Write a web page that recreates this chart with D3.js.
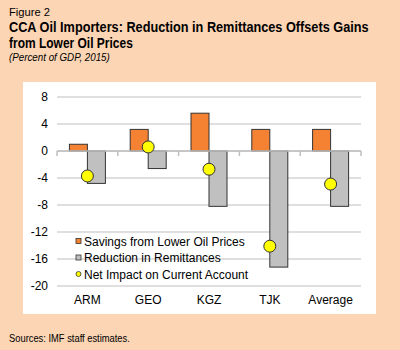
<!DOCTYPE html>
<html>
<head>
<meta charset="utf-8">
<script src="https://cdn.jsdelivr.net/npm/d3@7"></script>
<style>
  body { margin:0; background:#fcd5b4; }
  svg text { font-family: Arial, "Liberation Sans", sans-serif; fill:#000; }
</style>
</head>
<body>
<div id="chart"></div>
<script>
const categories = ["ARM","GEO","KGZ","TJK","Average"];
const savings     = [1.0, 3.2, 5.6, 3.2, 3.2];
const remittances = [-4.8, -2.6, -8.2, -17.2, -8.2];
const netImpact   = [-3.7, 0.6, -2.7, -14.1, -4.9];
const yTicks = [8,4,0,-4,-8,-12,-16,-20];
const legendLabels = ["Savings from Lower Oil Prices","Reduction in Remittances","Net Impact on Current Account"];

const svg = d3.select("#chart").append("svg").attr("width",400).attr("height",350);
svg.append("rect").attr("width",400).attr("height",350).attr("fill","#fcd5b4");

// condensed text: draw at natural size, then squeeze horizontally to target width
function squeezed(x0, y0, size, width, str, weight, style) {
    const t = svg.append("text").attr("x",0).attr("y",0)
        .style("font-size",size+"px").style("font-weight",weight||"normal")
        .style("font-style",style||"normal").text(str);
    const w = t.node().getComputedTextLength();
    t.attr("transform",`translate(${x0},${y0}) scale(${width/w},1)`);
    return t;
}
squeezed(9, 16, 11, 41, "Figure 2");
squeezed(9, 31.5, 14, 360, "CCA Oil Importers: Reduction in Remittances Offsets Gains", "bold");
squeezed(9, 48, 14, 124, "from Lower Oil Prices", "bold");
squeezed(9, 61, 10, 101, "(Percent of GDP, 2015)", "normal", "italic");
squeezed(9, 342, 10, 121, "Sources: IMF staff estimates.");

// white panel
svg.append("rect").attr("x",23).attr("y",82).attr("width",353).attr("height",232).attr("fill","#fff");

const x = d3.scaleBand().domain(categories).range([57,361]).paddingInner(0).paddingOuter(0);
const y = d3.scaleLinear().domain([-20,8]).range([286,97]);
const barW = 18;

const g = svg.append("g");
// gridlines
g.selectAll(".grid").data(yTicks).enter().append("line")
    .attr("x1",57).attr("x2",361).attr("y1",d=>y(d)).attr("y2",d=>y(d))
    .attr("stroke","#d4d4d4").attr("stroke-width",1.5);

// y labels
g.selectAll(".ylab").data(yTicks).enter().append("text")
    .attr("x",48).attr("y",d=>y(d)+4).attr("text-anchor","end").style("font-size","12px")
    .text(d=>d);

// legend (drawn before bars so bars sit above)
const ly0 = 241, lstep = 16.5;
legendLabels.forEach((lab,i) => {
    const yy = ly0 + i*lstep;
    if (i < 2) {
        g.append("rect").attr("x",76).attr("y",yy-2.5).attr("width",5).attr("height",5)
            .attr("fill", i===0 ? "#f58233" : "#c0c0c0").attr("stroke","#333").attr("stroke-width",0.8);
    } else {
        g.append("circle").attr("cx",78.5).attr("cy",yy).attr("r",2.5)
            .attr("fill","#ffff00").attr("stroke","#333").attr("stroke-width",0.8);
    }
    g.append("text").attr("x",84).attr("y",yy+4.5).style("font-size","12px").text(lab);
});

// bars
const cx = c => x(c) + x.bandwidth()/2;
g.selectAll(".sav").data(categories).enter().append("rect")
    .attr("x",d=>cx(d)-barW).attr("width",barW)
    .attr("y",(d,i)=>y(Math.max(0,savings[i])))
    .attr("height",(d,i)=>Math.abs(y(savings[i])-y(0)))
    .attr("fill","#f58233").attr("stroke","#333").attr("stroke-width",1);
g.selectAll(".rem").data(categories).enter().append("rect")
    .attr("x",d=>cx(d)).attr("width",barW)
    .attr("y",(d,i)=>y(Math.max(0,remittances[i])))
    .attr("height",(d,i)=>Math.abs(y(remittances[i])-y(0)))
    .attr("fill","#c0c0c0").attr("stroke","#333").attr("stroke-width",1);

// zero axis with ticks
g.append("line").attr("x1",57).attr("x2",361).attr("y1",y(0)).attr("y2",y(0))
    .attr("stroke","#bfbfbf").attr("stroke-width",1.5);
const bounds = categories.map(c=>x(c)).concat([361]);
g.selectAll(".tick").data(bounds).enter().append("line")
    .attr("x1",d=>d).attr("x2",d=>d).attr("y1",y(0)).attr("y2",y(0)+5)
    .attr("stroke","#bfbfbf").attr("stroke-width",1.5);

// net impact dots
g.selectAll(".dot").data(categories).enter().append("circle")
    .attr("cx",d=>cx(d)).attr("cy",(d,i)=>y(netImpact[i])).attr("r",6)
    .attr("fill","#ffff00").attr("stroke","#333").attr("stroke-width",1);

// x labels
g.selectAll(".xlab").data(categories).enter().append("text")
    .attr("x",d=>cx(d)).attr("y",304).attr("text-anchor","middle").style("font-size","12px")
    .text(d=>d);
</script>
</body>
</html>
